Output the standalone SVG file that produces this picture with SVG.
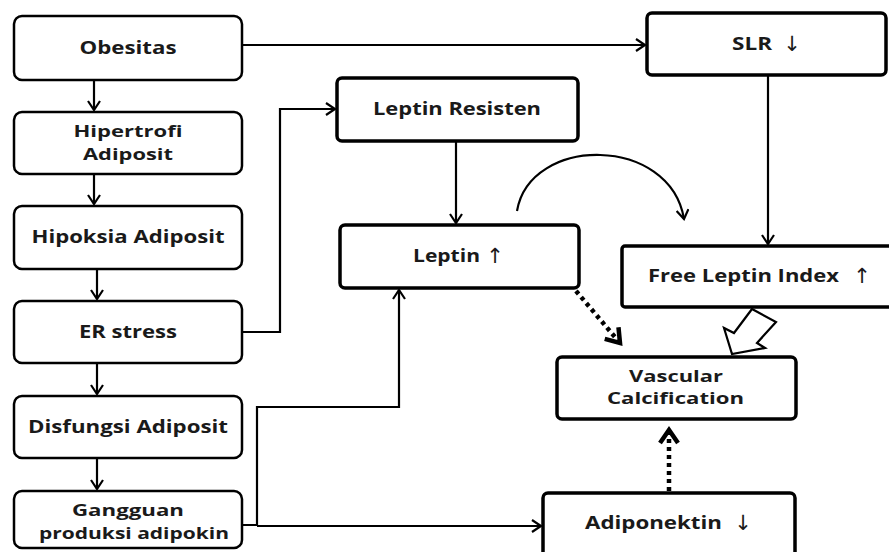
<svg xmlns="http://www.w3.org/2000/svg" width="889" height="552" viewBox="0 0 889 552">
<defs>
<style>
.bl{fill:#fff;stroke:#000;stroke-width:2.5}
.br{fill:#fff;stroke:#000;stroke-width:3.5}
text{font-family:"Open Sans","DejaVu Sans",sans-serif;font-weight:700;font-size:18px;fill:#1a1a1a;text-anchor:middle}
.s{font-size:16.5px}
.ar{font-family:"DejaVu Sans",sans-serif;font-weight:400;font-size:21px}
.c{fill:none;stroke:#000;stroke-width:2.2}
.d{fill:none;stroke:#000;stroke-width:4.5;stroke-dasharray:4 4}
</style>
<marker id="a" markerWidth="12" markerHeight="14" refX="10" refY="7" orient="auto" markerUnits="userSpaceOnUse">
<path d="M1,1 L10,7 L1,13" fill="none" stroke="#000" stroke-width="2.2"/>
</marker>
<marker id="b" markerWidth="22" markerHeight="22" refX="17" refY="11" orient="auto" markerUnits="userSpaceOnUse">
<path d="M4,2 L17,11 L4,20" fill="none" stroke="#000" stroke-width="4.5"/>
</marker>
</defs>
<g id="connectors">
<path class="c" d="M94,80 V110" marker-end="url(#a)"/>
<path class="c" d="M94,174 V204" marker-end="url(#a)"/>
<path class="c" d="M97,269 V299" marker-end="url(#a)"/>
<path class="c" d="M97,363 V394" marker-end="url(#a)"/>
<path class="c" d="M97,458 V489" marker-end="url(#a)"/>
<path class="c" d="M242,45 H645" marker-end="url(#a)"/>
<path class="c" d="M242,332 H280 V109 H335" marker-end="url(#a)"/>
<path class="c" d="M456,141 V223" marker-end="url(#a)"/>
<path class="c" d="M768,75 V244" marker-end="url(#a)"/>
<path class="c" d="M242,525 H257 V407 H399 V290" marker-end="url(#a)"/>
<path class="c" d="M257,526 H541" marker-end="url(#a)"/>
<path class="c" d="M517,211 C530,135 670,135 684,219" marker-end="url(#a)"/>
<path class="d" d="M576,291 L620,343" marker-end="url(#b)"/>
<path class="d" d="M669,491 V430" marker-end="url(#b)"/>
<polygon points="752,309 776,322 757,343 765,348 732,354 724,328 734,333" fill="#fff" stroke="#000" stroke-width="2.2" stroke-linejoin="miter"/>
</g>
<g id="obesitas"><rect class="bl" x="14" y="16" width="228" height="64" rx="8"/><text x="128" y="54" textLength="97" lengthAdjust="spacingAndGlyphs">Obesitas</text></g>
<g id="hipertrofi"><rect class="bl" x="14" y="112" width="228" height="62" rx="8"/><text class="s" x="128" y="137" textLength="109" lengthAdjust="spacingAndGlyphs">Hipertrofi</text><text class="s" x="128" y="160" textLength="90" lengthAdjust="spacingAndGlyphs">Adiposit</text></g>
<g id="hipoksia"><rect class="bl" x="14" y="206" width="228" height="63" rx="8"/><text x="128" y="243" textLength="193" lengthAdjust="spacingAndGlyphs">Hipoksia Adiposit</text></g>
<g id="er-stress"><rect class="bl" x="14" y="301" width="228" height="62" rx="8"/><text x="128" y="338" textLength="98" lengthAdjust="spacingAndGlyphs">ER stress</text></g>
<g id="disfungsi"><rect class="bl" x="14" y="396" width="228" height="62" rx="8"/><text x="128" y="433" textLength="200" lengthAdjust="spacingAndGlyphs">Disfungsi Adiposit</text></g>
<g id="gangguan"><rect class="bl" x="14" y="491" width="228" height="57" rx="8"/><text class="s" x="128" y="516" textLength="112" lengthAdjust="spacingAndGlyphs">Gangguan</text><text class="s" x="134" y="539" textLength="190" lengthAdjust="spacingAndGlyphs">produksi adipokin</text></g>
<g id="leptin-resisten"><rect class="br" x="337" y="78" width="241" height="63" rx="5"/><text x="457" y="115" textLength="168" lengthAdjust="spacingAndGlyphs">Leptin Resisten</text></g>
<g id="leptin"><rect class="br" x="340" y="225" width="239" height="63" rx="5"/><text x="446.5" y="262" textLength="67" lengthAdjust="spacingAndGlyphs">Leptin</text><text class="ar" x="495" y="263">↑</text></g>
<g id="slr"><rect class="br" x="647" y="13" width="239" height="62" rx="5"/><text x="752" y="50" textLength="40" lengthAdjust="spacingAndGlyphs">SLR</text><text class="ar" x="792" y="51">↓</text></g>
<g id="free-leptin-index"><rect class="br" x="622" y="246" width="280" height="61" rx="3"/><text x="743.5" y="282" textLength="191" lengthAdjust="spacingAndGlyphs">Free Leptin Index</text><text class="ar" x="862" y="283">↑</text></g>
<g id="vascular"><rect class="br" x="557" y="357" width="239" height="62" rx="5"/><text class="s" x="676" y="382" textLength="94" lengthAdjust="spacingAndGlyphs">Vascular</text><text class="s" x="675.5" y="404" textLength="137" lengthAdjust="spacingAndGlyphs">Calcification</text></g>
<g id="adiponektin"><rect class="br" x="543" y="493" width="252" height="70" rx="5"/><text x="653.5" y="529" textLength="137" lengthAdjust="spacingAndGlyphs">Adiponektin</text><text class="ar" x="743" y="530">↓</text></g>
</svg>
